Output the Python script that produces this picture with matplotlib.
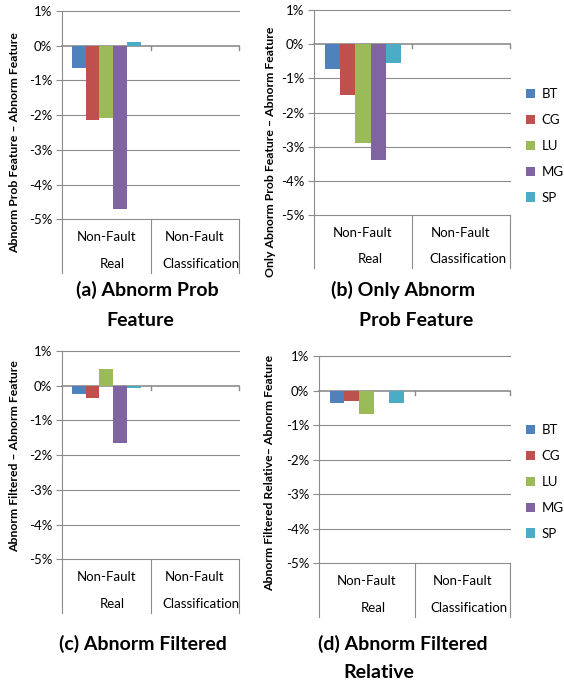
import matplotlib
matplotlib.use('Agg')
import matplotlib.pyplot as plt
import numpy as np

plt.rcParams['font.family'] = ['Lato', 'DejaVu Sans']

benchmarks = ['BT', 'CG', 'LU', 'MG', 'SP']
colors = ['#4F81BD', '#C0504D', '#9BBB59', '#8064A2', '#4BACC6']
inner_labels = ['Non-Fault', 'Non-Fault']
outer_labels = ['Real', 'Classification']
yticks = [-5, -4, -3, -2, -1, 0, 1]

# values in % (only the "Real" category has data)
vals_a = [-0.64, -2.14, -2.07, -4.70, 0.10]
vals_b = [-0.72, -1.50, -2.88, -3.40, -0.55]
vals_c = [-0.23, -0.35, 0.48, -1.64, -0.06]
vals_d = [-0.37, -0.29, -0.68, -0.02, -0.37]

ylabels = ['Abnorm Prob Feature \u2013 Abnorm Feature',
           'Only Abnorm Prob Feature \u2013 Abnorm Feature',
           'Abnorm Filtered \u2013 Abnorm Feature',
           'Abnorm Filtered Relative\u2013 Abnorm Feature']
titles = [['(a) Abnorm Prob', 'Feature'],
          ['(b) Only Abnorm', 'Prob Feature'],
          ['(c) Abnorm Filtered'],
          ['(d) Abnorm Filtered', 'Relative']]

W, H = 564, 683
fig = plt.figure(figsize=(W / 100, H / 100), dpi=100)

# pixel boxes: left, right, top, bottom
boxes = [(62, 239, 11, 273), (314, 510, 10, 268), (62, 239, 351, 613), (319, 510, 356, 617)]
ylab_pos = [(15, 143), (270, 152), (15, 456), (270, 473)]
title_pos = [[(147, 290), (140, 321)], [(403, 290), (416, 321)], [(143, 644)], [(403, 644), (379, 672)]]

grey = '#8C8C8C'
ymin = -6.55
bw = 0.156
all_vals = [vals_a, vals_b, vals_c, vals_d]

for k, vals in enumerate(all_vals):
    l, r, t, b = boxes[k]
    ax = fig.add_axes([l / W, 1 - b / H, (r - l) / W, (b - t) / H])
    x = 0.5 + (np.arange(len(benchmarks)) - 2) * bw
    bars = []
    for i, name in enumerate(benchmarks):
        bars.append(ax.bar(x[i], vals[i], width=bw, color=colors[i], label=name, zorder=3))
    ax.set_xlim(0, 2)
    ax.set_ylim(ymin, 1)
    for yv in yticks:
        ax.plot([0, 2], [yv, yv], color=grey, lw=1.2 if yv == 0 else 0.8, zorder=1, clip_on=False)
    for xv in [1, 2]:
        ax.plot([xv, xv], [ymin, -5], color=grey, lw=0.8, zorder=1, clip_on=False)
        ax.plot([xv, xv], [0, -0.12], color=grey, lw=1.0, zorder=1, clip_on=False)
    ax.set_yticks(yticks)
    ax.set_yticklabels(['%d%%' % v for v in yticks], fontsize=9.5)
    ax.tick_params(axis='y', direction='out', length=4, color=grey, pad=3)
    ax.set_xticks([])
    for s in ['top', 'right', 'bottom']:
        ax.spines[s].set_visible(False)
    ax.spines['left'].set_color(grey)
    ax.spines['left'].set_linewidth(0.8)
    for j in range(2):
        ax.text(j + 0.5, -5.52, inner_labels[j], ha='center', va='center', fontsize=9.5)
        ax.text(j + 0.57, -6.28, outer_labels[j], ha='center', va='center', fontsize=9.5)
    ax.set_facecolor('none')

    px, py = ylab_pos[k]
    fig.text(px / W, 1 - py / H, ylabels[k], rotation=90, ha='center', va='center',
             fontsize=8.8, fontweight='bold')
    for line, (tx, ty) in zip(titles[k], title_pos[k]):
        fig.text(tx / W, 1 - ty / H, line, ha='center', va='center', fontsize=14, fontweight='bold')

    if k in (1, 3):
        cy = 146 if k == 1 else 482
        fig.legend(handles=bars, labels=benchmarks, loc='center left',
                   bbox_to_anchor=(526 / W, 1 - cy / H), frameon=False, fontsize=9.5,
                   handlelength=0.7, handleheight=0.7, handletextpad=0.5, labelspacing=1.05,
                   borderpad=0, borderaxespad=0)

fig.savefig('out.png', dpi=100)
